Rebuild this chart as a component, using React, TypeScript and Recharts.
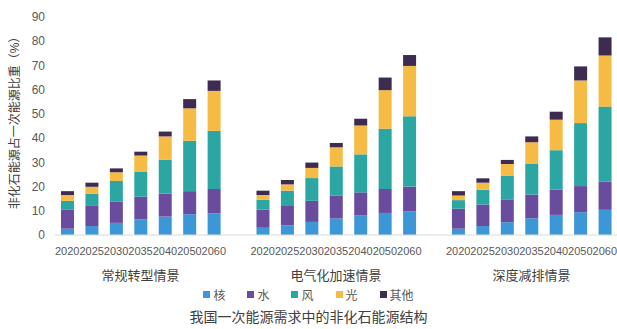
import { BarChart, Bar, XAxis, YAxis, Legend } from 'recharts';

const years = ['2020', '2025', '2030', '2035', '2040', '2050', '2060'];
const scenarios = ['常规转型情景', '电气化加速情景', '深度减排情景'];
const yTicks = [0, 10, 20, 30, 40, 50, 60, 70, 80, 90];

// one row per scenario, one value per year
const nuclear = [
  [2.6, 3.7, 5.0, 6.5, 7.6, 8.6, 8.9],
  [3.0, 4.0, 5.4, 6.8, 8.2, 9.1, 9.7],
  [2.6, 3.7, 5.3, 6.9, 8.3, 9.4, 10.4],
];
const hydro = [
  [7.8, 8.3, 8.7, 9.3, 9.5, 9.5, 10.1],
  [7.5, 8.3, 8.7, 9.4, 9.4, 9.9, 10.3],
  [8.3, 8.9, 9.2, 9.8, 10.4, 10.8, 11.6],
];
const wind = [
  [3.7, 5.1, 8.6, 10.2, 13.9, 20.8, 24.0],
  [4.0, 6.0, 9.4, 12.1, 15.7, 24.9, 29.0],
  [3.5, 6.1, 9.9, 12.8, 16.3, 26.0, 31.0],
];
const solar = [
  [2.4, 2.8, 3.6, 6.8, 9.7, 13.4, 16.5],
  [2.0, 2.6, 4.2, 7.9, 11.9, 15.9, 20.8],
  [1.9, 2.9, 4.9, 8.8, 12.6, 17.6, 21.1],
];
const other = [
  [1.6, 1.7, 1.6, 1.6, 2.0, 3.8, 4.3],
  [1.8, 1.8, 2.2, 1.8, 2.8, 5.2, 4.5],
  [1.8, 1.8, 1.7, 2.4, 3.3, 5.8, 7.5],
];

const SERIES = [
  { key: 'nuclear', name: '核', color: '#3c97d6' },
  { key: 'hydro', name: '水', color: '#6a4c9f' },
  { key: 'wind', name: '风', color: '#2ba6a3' },
  { key: 'solar', name: '光', color: '#f6bb45' },
  { key: 'other', name: '其他', color: '#3e2b50' },
];

const FONT = '"Liberation Sans", "Noto Sans CJK SC", sans-serif';

// build rows, with an empty slot between scenarios
const rows: any[] = [];
scenarios.forEach((scenario, s) => {
  if (s > 0) rows.push({ id: `gap-${s}`, year: '' });
  years.forEach((year, i) => {
    rows.push({
      id: `${s}-${year}`,
      year,
      scenario: i === 3 ? scenario : '',
      nuclear: nuclear[s][i],
      hydro: hydro[s][i],
      wind: wind[s][i],
      solar: solar[s][i],
      other: other[s][i],
    });
  });
});

const YearTick = (props: any) => {
  const { x, y, index } = props;
  const row = rows[index];
  if (!row) return null;
  return (
    <g>
      <text x={x} y={y + 12} textAnchor="middle" fontSize={11} fill="#595959" fontFamily={FONT}>
        {row.year}
      </text>
      {row.scenario && (
        <text x={x} y={y + 37} textAnchor="middle" fontSize={13} fill="#404040" fontFamily={FONT}>
          {row.scenario}
        </text>
      )}
    </g>
  );
};

const LegendContent = () => (
  <div style={{ display: 'flex', justifyContent: 'center', gap: 22, fontSize: 12, color: '#595959', fontFamily: FONT }}>
    {SERIES.map((s) => (
      <span key={s.key} style={{ display: 'inline-flex', alignItems: 'center' }}>
        <span style={{ width: 7, height: 7, background: s.color, marginRight: 3, display: 'inline-block' }} />
        {s.name}
      </span>
    ))}
  </div>
);

export default function App() {
  return (
    <div style={{ position: 'absolute', left: 0, top: 0, width: 617, height: 329, background: '#fff', fontFamily: FONT }}>
      <BarChart
        width={617}
        height={308}
        data={rows}
        margin={{ top: 17, right: 0, left: 0, bottom: 0 }}
        barSize={13}
      >
        <XAxis
          dataKey="id"
          interval={0}
          tick={<YearTick />}
          tickLine={false}
          axisLine={{ stroke: '#d9d9d9' }}
          height={51}
        />
        <YAxis
          domain={[0, 90]}
          ticks={yTicks}
          width={55}
          axisLine={false}
          tickLine={false}
          tickSize={0}
          tickMargin={10}
          tick={{ fontSize: 12, fill: '#595959', fontFamily: FONT }}
          label={{
            value: '非化石能源占一次能源比重（%）',
            angle: -90,
            position: 'insideLeft',
            offset: 15,
            dy: -6,
            style: { textAnchor: 'middle', fontSize: 12, fill: '#404040', fontFamily: FONT },
          }}
        />
        <Legend verticalAlign="bottom" height={22} content={<LegendContent />} />
        {SERIES.map((s) => (
          <Bar key={s.key} dataKey={s.key} name={s.name} stackId="a" fill={s.color} isAnimationActive={false} />
        ))}
      </BarChart>
      <div
        style={{
          position: 'absolute',
          left: 0,
          top: 308,
          width: 617,
          textAlign: 'center',
          fontSize: 14,
          color: '#404040',
          lineHeight: '18px',
        }}
      >
        我国一次能源需求中的非化石能源结构
      </div>
    </div>
  );
}
